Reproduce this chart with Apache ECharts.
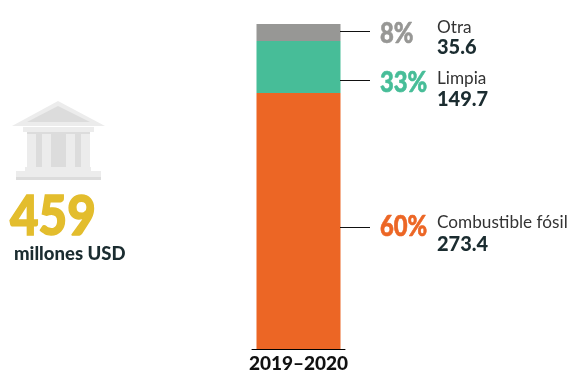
<!DOCTYPE html>
<html><head><meta charset="utf-8">
<style>html,body{margin:0;padding:0;background:#fff}#c{width:571px;height:371px}</style>
<script src="https://cdn.jsdelivr.net/npm/echarts@6/dist/echarts.min.js"></script>
</head><body><div id="c"></div>
<script>
// Data, bottom segment first
const categories = ['2019–2020'];
const names = ['Combustible fósil', 'Limpia', 'Otra'];
const amounts = ['273.4', '149.7', '35.6'];
const percents = ['60%', '33%', '8%'];
const colors = ['#ec6625', '#47bd98', '#979795'];
// Segment heights as actually drawn in the reference (they are not proportional to the printed amounts)
const drawnHeights = [256, 52, 17];
const leaderLevels = [122, 269.5, 318];
const totalLabel = '459';
const totalUnit = 'millones USD';

const DARK = '#1b2c30';
const FONT = 'Lato';
// pixel offsets of each row's texts from its leader line
const rowLayout = [
  {name: -5, amount: 17, pct: -1},
  {name: -2, amount: 19, pct: 2.5},
  {name: -4, amount: 16, pct: 2}
];

const L = '#ececec', D = '#dcdcdc';
const rect = (x, y, w, h, fill) => ({type: 'rect', shape: {x, y, width: w, height: h}, style: {fill}, silent: true});
const poly = (points, fill) => ({type: 'polygon', shape: {points}, style: {fill}, silent: true});
const icon = [
  poly([[58,101],[12,126],[105,126]], L),
  poly([[58,106],[27,122],[90,122]], D),
  rect(23,127,71,5,L),
  rect(27,132,63,35,D),
  rect(27,134,9,33,L), rect(42,134,9,33,L), rect(66,134,9,33,L), rect(81,134,9,33,L),
  rect(25,167,66,4,L),
  rect(16,171,85,6,L),
  rect(16,177,85,3,D)
];

const chart = echarts.init(document.getElementById('c'), null, {renderer: 'canvas'});
chart.setOption({
  animation: false,
  grid: {left: 252, width: 93, top: 24, bottom: 22, outerBoundsMode: 'none', containLabel: false},
  xAxis: {
    type: 'category', data: categories,
    axisLine: {lineStyle: {color: '#000', width: 1}},
    axisTick: {show: false},
    axisLabel: {color: '#111', fontFamily: FONT, fontWeight: 900, fontSize: 19, margin: 5}
  },
  yAxis: {type: 'value', min: 0, max: drawnHeights.reduce((a, b) => a + b, 0), show: false},
  series: [
    ...names.map((n, i) => ({
      type: 'bar', name: n, stack: 'a', barWidth: 84, data: [drawnHeights[i]],
      itemStyle: {color: colors[i]}, z: 3
    })),
    {
      type: 'custom', clip: false, z: 4,
      coordinateSystem: 'cartesian2d',
      data: leaderLevels.map((v) => [0, v]),
      renderItem(params, api) {
        const i = params.dataIndex;
        const p = api.coord([0, api.value(1)]);
        const y = Math.round(p[1]) + 0.5;
        const x = p[0] - 298.5 + 340;
        const r = rowLayout[i];
        const txt = (tx, ty, text, fill, size, weight, sx, sw) => ({
          type: 'text', x: tx, y: ty, scaleX: sx || 1,
          style: {text, fill, fontFamily: FONT, fontSize: size, fontWeight: weight, align: 'left', verticalAlign: 'middle',
                  stroke: sw ? fill : null, lineWidth: sw || 0}
        });
        return {type: 'group', children: [
          {type: 'line', shape: {x1: x, y1: y, x2: x + 30, y2: y}, style: {stroke: '#111', lineWidth: 1}},
          txt(x + 40, y + r.pct, percents[i], colors[i], 28, 900, 0.85, 0.6),
          txt(x + 97, y + r.name, names[i], '#333', 17.2, 'normal'),
          txt(x + 97, y + r.amount, amounts[i], DARK, 20, 900)
        ]};
      }
    }
  ],
  graphic: [
    ...icon,
    {type: 'text', x: 10, y: 217, scaleX: 0.88, style: {text: totalLabel, fill: '#e3bd2d', stroke: '#e3bd2d', lineWidth: 1.5, fontFamily: FONT, fontWeight: 900, fontSize: 56, align: 'left', verticalAlign: 'middle'}},
    {type: 'text', x: 14, y: 254, style: {text: totalUnit, fill: DARK, fontFamily: FONT, fontWeight: 900, fontSize: 18.5, align: 'left', verticalAlign: 'middle'}}
  ]
});
</script></body></html>
